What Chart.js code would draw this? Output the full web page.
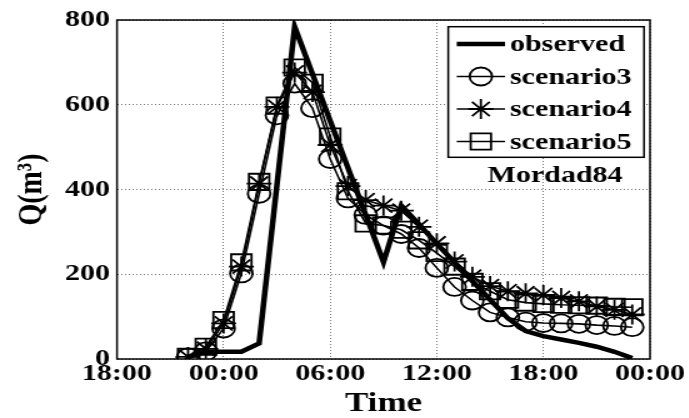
<!DOCTYPE html>
<html>
<head>
<meta charset="utf-8">
<script src="https://cdn.jsdelivr.net/npm/chart.js@4.4.1/dist/chart.umd.min.js"></script>
<style>
  html, body { margin: 0; padding: 0; background: #fff; overflow: hidden; }
  #wrap { width: 689px; height: 418px; overflow: hidden; }
  /* the source figure is stretched sideways, so is this one */
  #chart { display: block; transform: scaleX(1.25); transform-origin: 0 0; }
</style>
</head>
<body>
<div id="wrap"><canvas id="chart" width="551" height="418"></canvas></div>
<script>
// hours after 18:00 of the first day
var hours     = [4, 5, 6, 7, 8, 9, 10, 11, 12, 13, 14, 15, 16, 17, 18, 19, 20, 21, 22, 23, 24, 25, 26, 27, 28, 29];
var observed  = [5, 17, 17, 17, 37, 410, 784, 673, 562, 451, 340, 229, 362, 318, 272, 228, 184, 140, 96, 66, 54, 46, 38, 29, 17, 2];
var scenario3 = [4, 18, 72, 202, 390, 575, 650, 592, 472, 379, 340, 315, 295, 262, 215, 170, 138, 110, 98, 88, 85, 84, 83, 80, 78, 75];
var scenario4 = [5, 24, 84, 218, 414, 595, 676, 630, 505, 408, 375, 362, 350, 312, 273, 230, 194, 172, 160, 155, 151, 144, 136, 124, 116, 105];
var scenario5 = [5, 29, 92, 228, 418, 598, 688, 652, 525, 396, 320, 315, 305, 280, 250, 218, 182, 160, 140, 133, 130, 128, 127, 126, 123, 122];

var timeLabels = ['18:00', '00:00', '06:00', '12:00', '18:00', '00:00'];
var seriesNames = ['observed', 'scenario3', 'scenario4', 'scenario5'];
var eventName = 'Mordad84';

var serif = "'Liberation Serif', 'Times New Roman', serif";

function toPoints(values) {
    return values.map(function (v, i) { return { x: hours[i], y: v }; });
}

function scenarioSet(name, values, style, radius) {
    return {
        label: name,
        data: toPoints(values),
        borderColor: '#000',
        borderWidth: 1.6,
        pointStyle: style,
        pointRadius: radius,
        pointBorderWidth: 1.8,
        pointBorderColor: '#000',
        pointBackgroundColor: 'rgba(0,0,0,0)',
        tension: 0
    };
}

// frame round the plot, legend box and event name
var frameLegend = {
    id: 'frameLegend',
    afterDraw: function (chart) {
        var ctx = chart.ctx;
        var a = chart.chartArea;
        ctx.save();
        ctx.strokeStyle = '#000';
        ctx.lineWidth = 1.5;
        ctx.strokeRect(a.left, a.top, a.right - a.left, a.bottom - a.top);

        var bx = 358.6, by = 26.7, bw = 156.6, bh = 130.6;
        ctx.fillStyle = '#fff';
        ctx.fillRect(bx, by, bw, bh);
        ctx.strokeRect(bx, by, bw, bh);

        chart.data.datasets.forEach(function (ds, i) {
            var y = 44 + i * 32.5;
            ctx.strokeStyle = '#000';
            ctx.lineWidth = ds.borderWidth;
            ctx.beginPath();
            ctx.moveTo(365.4, y);
            ctx.lineTo(404, y);
            ctx.stroke();
            if (ds.pointRadius > 0) {
                ctx.lineWidth = ds.pointBorderWidth;
                ctx.fillStyle = 'rgba(0,0,0,0)';
                Chart.helpers.drawPoint(ctx, { pointStyle: ds.pointStyle, radius: ds.pointRadius, borderWidth: ds.pointBorderWidth, rotation: 0 }, 384.7, y);
            }
            ctx.fillStyle = '#000';
            ctx.font = 'bold 24px ' + serif;
            ctx.textAlign = 'left';
            ctx.textBaseline = 'middle';
            ctx.fillText(seriesNames[i], 408, y + 1);
        });

        ctx.font = 'bold 24px ' + serif;
        ctx.textAlign = 'center';
        ctx.fillText(eventName, 444, 176);
        ctx.restore();
    }
};

var chartObject = {
    type: 'line',
    data: {
        datasets: [
            {
                label: seriesNames[0],
                data: toPoints(observed),
                borderColor: '#000',
                borderWidth: 4.5,
                pointRadius: 0,
                tension: 0
            },
            scenarioSet(seriesNames[1], scenario3, 'circle', 9),
            scenarioSet(seriesNames[2], scenario4, 'star', 10),
            scenarioSet(seriesNames[3], scenario5, 'rect', 11.5)
        ]
    },
    options: {
        responsive: false,
        animation: false,
        devicePixelRatio: 1,
        layout: { padding: { left: 0, right: 29.6, top: 20, bottom: 0 } },
        plugins: { legend: { display: false }, tooltip: { enabled: false } },
        scales: {
            x: {
                type: 'linear',
                min: 0,
                max: 30,
                afterFit: function (s) { s.height = 59; },
                ticks: {
                    stepSize: 6,
                    autoSkip: false,
                    maxRotation: 0,
                    padding: 3,
                    color: '#000',
                    font: { family: serif, size: 24, weight: 'bold', lineHeight: 1 },
                    callback: function (v) { return timeLabels[v / 6]; }
                },
                grid: { color: '#777', lineWidth: 1, drawTicks: false },
                border: { display: false, dash: [1, 2] },
                title: {
                    display: true,
                    text: 'Time',
                    color: '#000',
                    padding: 0,
                    font: { family: serif, size: 28, weight: 'bold', lineHeight: 1 }
                }
            },
            y: {
                min: 0,
                max: 800,
                afterFit: function (s) { s.width = 93.6; },
                ticks: {
                    stepSize: 200,
                    padding: 5.6,
                    color: '#000',
                    font: { family: serif, size: 24, weight: 'bold', lineHeight: 1 }
                },
                grid: { color: '#777', lineWidth: 1, drawTicks: false },
                border: { display: false, dash: [1, 2] },
                title: {
                    display: true,
                    text: 'Q(m³)',
                    color: '#000',
                    padding: { top: 12, bottom: 0 },
                    font: { family: serif, size: 28, weight: 'bold', lineHeight: 1 }
                }
            }
        }
    },
    plugins: [frameLegend]
};

var qChart = new Chart(document.getElementById('chart'), chartObject);
</script>
</body>
</html>
